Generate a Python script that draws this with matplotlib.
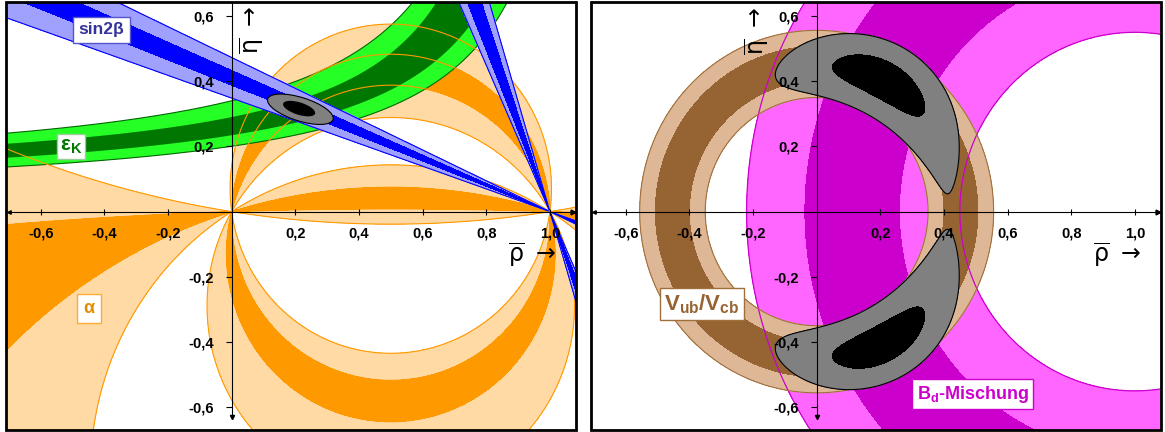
# plot.py — Unitaritätsdreieck: Einzelmessungen (links) und V_ub/V_cb mit B_d-Mischung (rechts).
#
# Verwendung:
#   python plot.py   -> schreibt out.png

import numpy as np
import matplotlib

matplotlib.use("Agg")
import matplotlib.pyplot as plt
from matplotlib.patches import Ellipse, Rectangle

# Achsenbereich und Ticks (rho-bar, eta-bar)
RHO_LIM = (-0.709, 1.082)
ETA_LIM = (-0.670, 0.643)
TICKS_RHO = [-0.6, -0.4, -0.2, 0.2, 0.4, 0.6, 0.8, 1.0]
TICKS_ETA = [-0.6, -0.4, -0.2, 0.2, 0.4, 0.6]

# alpha in Grad (beide Lösungen), 1-sigma / 2-sigma
ALPHA_1S = [(92.0, 104.4), (163.0, 178.1)]
ALPHA_2S = [(82.0, 120.0), (148.0, 188.8)]

# beta in Grad (beide Lösungen aus sin 2 beta)
BETA_1S = [(21.2, 23.4), (68.0, 71.5)]
BETA_2S = [(19.2, 25.3), (66.0, 73.5)]

# eps_K: Stützpunkte der vier Bandränder (rho, eta)
EPSK_RHO_OBEN_2S = [-0.709, 0.00, 0.374, 0.468, 0.570]
EPSK_ETA_OBEN_2S = [0.240, 0.342, 0.474, 0.548, 0.643]
EPSK_RHO_OBEN_1S = [-0.709, 0.00, 0.644]
EPSK_ETA_OBEN_1S = [0.208, 0.290, 0.643]
EPSK_RHO_UNTEN_1S = [-0.709, 0.00, 0.468, 0.800]
EPSK_ETA_UNTEN_1S = [0.166, 0.230, 0.365, 0.643]
EPSK_RHO_UNTEN_2S = [-0.709, 0.00, 0.468, 0.622, 0.778, 0.868]
EPSK_ETA_UNTEN_2S = [0.138, 0.195, 0.311, 0.397, 0.508, 0.643]

# Gesamtfit links: Mittelpunkt, Achsen (voll), Drehwinkel
FIT_MITTE = (0.216, 0.314)
FIT_95 = (0.215, 0.072)
FIT_68 = (0.105, 0.038)
FIT_MITTE_68 = (0.212, 0.316)
FIT_WINKEL = -17.0

# |V_ub/V_cb|: Radius um (0,0)
VUB_1S = [0.40, 0.51]
VUB_2S = [0.35, 0.556]

# Delta m_d: Radius um (1,0)
DMD_1S = [0.74, 1.04]
DMD_2S = [0.55, 1.22]

# Fit aus V_ub und Delta m_d (chi^2 in r und d)
FIT_R0, FIT_SR = 0.455, 0.055
FIT_D0, FIT_SD = 0.89, 0.15
FIT_CHI2 = [1.2, 4.5]

ORANGE_HELL, ORANGE = "#FFDAA5", "#FF9900"
GRUEN_HELL, GRUEN = "#26FF26", "#007700"
BLAU_HELL, BLAU = "#A0A0FF", "#0000FF"
BRAUN_HELL, BRAUN = "#DEB896", "#966432"
MAG_HELL, MAG = "#FF66FF", "#CC00CC"

plt.rcParams["font.family"] = ["Liberation Sans", "DejaVu Sans"]
plt.rcParams["mathtext.fontset"] = "custom"
plt.rcParams["mathtext.rm"] = "Liberation Sans:bold"
plt.rcParams["mathtext.it"] = "Liberation Sans:bold:italic"
plt.rcParams["mathtext.bf"] = "Liberation Sans:bold"


def _komma(v):
    return f"{v:.1f}".replace(".", ",")


def _gitter(n=1200):
    rho = np.linspace(RHO_LIM[0] - 0.02, RHO_LIM[1] + 0.02, n)
    eta = np.linspace(ETA_LIM[0] - 0.02, ETA_LIM[1] + 0.02, int(n * 0.8))
    return np.meshgrid(rho, eta)


def _hyperbel(rho_pts, eta_pts, rho):
    """eta = e + k/(rho0 - rho), angepasst an die Stützpunkte."""
    r = np.asarray(rho_pts, float)
    e = np.asarray(eta_pts, float)
    A = np.column_stack([e, r, np.ones_like(r)])
    rho0, off, c = np.linalg.lstsq(A, e * r, rcond=None)[0]
    k = -c - off * rho0
    with np.errstate(divide="ignore"):
        eta = off + k / (rho0 - rho)
    return np.where(rho < rho0, eta, 10.0)


def _winkelband(ax, R, E, w, intervalle, farbe, z, linie=None):
    """Füllt die Gebiete, in denen arg(w)/2 (mod 180 Grad) in [lo, hi] liegt."""
    for lo, hi in intervalle:
        g = np.abs(np.angle(w * np.exp(-1j * np.deg2rad(lo + hi)), deg=True))
        ax.contourf(R, E, g, levels=[-1, hi - lo], colors=[farbe], zorder=z)
        if linie:
            ax.contour(R, E, g, levels=[hi - lo], colors=linie, linewidths=0.8,
                       linestyles="solid", zorder=z + 0.05)


def _band(ax, R, E, feld, s1, s2, hell, dunkel, z):
    lv = [s2[0], s1[0], s1[1], s2[1]]
    ax.contourf(R, E, feld, levels=lv, colors=[hell, dunkel, hell], zorder=z)


def _achsen(ax):
    ax.set_xlim(*RHO_LIM)
    ax.set_ylim(*ETA_LIM)
    for side in ("top", "right"):
        ax.spines[side].set_visible(False)
    ax.spines["left"].set_position(("data", 0.0))
    ax.spines["bottom"].set_position(("data", 0.0))
    ax.spines["left"].set_bounds(-0.63, ETA_LIM[1])
    for side in ("left", "bottom"):
        ax.spines[side].set_linewidth(0.8)
    ax.set_xticks(TICKS_RHO, [_komma(v) for v in TICKS_RHO])
    ax.set_yticks(TICKS_ETA, [_komma(v) for v in TICKS_ETA])
    ax.tick_params(axis="x", direction="inout", length=5, width=0.8, pad=8, labelsize=10.5)
    ax.tick_params(axis="y", direction="out", length=4, width=0.8, pad=9, labelsize=10.5)
    for lab in ax.get_xticklabels() + ax.get_yticklabels():
        lab.set_fontweight("bold")
    # kleine Pfeilspitzen an den Achsenenden
    ax.plot([RHO_LIM[1] - 0.01], [0], marker=">", ms=3.5, color="black", clip_on=False, zorder=3)
    ax.plot([RHO_LIM[0] + 0.01], [0], marker="<", ms=2.5, color="black", clip_on=False, zorder=3)
    ax.plot([0], [-0.63], marker="v", ms=3, color="black", clip_on=False, zorder=3)
    ax.add_patch(Rectangle((0, 0), 1, 1, transform=ax.transAxes, fill=False,
                           lw=2.0, ec="black", clip_on=False, zorder=10))


def _kasten(ax, x, y, text, farbe, rand, size, pad=0.3):
    ax.text(x, y, text, transform=ax.transAxes, ha="center", va="center",
            fontsize=size, fontweight="bold", color=farbe, zorder=6,
            bbox=dict(boxstyle=f"square,pad={pad}", fc="white", ec=rand, lw=1.0))


def _achsentitel(ax, pos_eta, pos_rho):
    ax.text(*pos_eta, r"$\overline{\mathrm{\eta}}\ \rightarrow$", transform=ax.transAxes,
            rotation=90, ha="center", va="center", fontsize=17,
            math_fontfamily="dejavusans", zorder=6)
    ax.text(*pos_rho, r"$\overline{\mathrm{\rho}}\ \rightarrow$", transform=ax.transAxes,
            ha="center", va="center", fontsize=17, math_fontfamily="dejavusans", zorder=6)


def _links(ax):
    R, E = _gitter()
    # Winkel alpha an der Spitze und beta bei (1,0), jeweils verdoppelt als Phase
    w_alpha = (R**2 - R + E**2 + 1j * E) ** 2
    w_beta = ((1 - R) + 1j * E) ** 2

    _winkelband(ax, R, E, w_alpha, ALPHA_2S, ORANGE_HELL, 1.0)
    _winkelband(ax, R, E, w_alpha, ALPHA_1S, ORANGE, 1.05)

    # eps_K
    rho = np.linspace(RHO_LIM[0] - 0.02, RHO_LIM[1] + 0.02, 1500)
    o2 = _hyperbel(EPSK_RHO_OBEN_2S, EPSK_ETA_OBEN_2S, rho)
    o1 = _hyperbel(EPSK_RHO_OBEN_1S, EPSK_ETA_OBEN_1S, rho)
    u1 = _hyperbel(EPSK_RHO_UNTEN_1S, EPSK_ETA_UNTEN_1S, rho)
    u2 = _hyperbel(EPSK_RHO_UNTEN_2S, EPSK_ETA_UNTEN_2S, rho)
    ax.fill_between(rho, u2, o2, color=GRUEN_HELL, lw=0, zorder=1.2)
    ax.fill_between(rho, u1, o1, color=GRUEN, lw=0, zorder=1.22)
    for kurve in (o2, u2):
        ax.plot(rho, np.where(kurve < 5, kurve, np.nan), color="#006600", lw=0.8, zorder=1.25)

    # Randlinien von alpha über eps_K
    for lo, hi in ALPHA_2S + ALPHA_1S:
        g = np.abs(np.angle(w_alpha * np.exp(-1j * np.deg2rad(lo + hi)), deg=True))
        ax.contour(R, E, g, levels=[hi - lo], colors=ORANGE, linewidths=0.8,
                   linestyles="solid", zorder=1.3)

    # sin 2 beta
    _winkelband(ax, R, E, w_beta, BETA_2S, BLAU_HELL, 1.4, linie=BLAU)
    _winkelband(ax, R, E, w_beta, BETA_1S, BLAU, 1.45)

    # Gesamtfit
    ax.add_patch(Ellipse(FIT_MITTE, FIT_95[0], FIT_95[1], angle=FIT_WINKEL,
                         fc="#808080", ec="black", lw=0.8, zorder=1.6))
    ax.add_patch(Ellipse(FIT_MITTE_68, FIT_68[0], FIT_68[1], angle=FIT_WINKEL,
                         fc="black", ec="none", zorder=1.65))

    _achsen(ax)
    _achsentitel(ax, (0.4316, 0.934), (0.9228, 0.409))
    _kasten(ax, 0.1675, 0.9346, "sin2β", "#333399", "#5555CC", 12.5)
    _kasten(ax, 0.114, 0.6624, r"$\mathrm{ε_K}$", GRUEN, "#99CC99", 15, pad=0.15)
    _kasten(ax, 0.1456, 0.2839, "α", "#E68A00", "#FFAA33", 13, pad=0.35)


def _rechts(ax):
    R, E = _gitter()
    r = np.hypot(R, E)
    d = np.hypot(R - 1, E)
    chi2 = ((r - FIT_R0) / FIT_SR) ** 2 + ((d - FIT_D0) / FIT_SD) ** 2

    _band(ax, R, E, d, DMD_1S, DMD_2S, MAG_HELL, MAG, 1.0)
    _band(ax, R, E, r, VUB_1S, VUB_2S, BRAUN_HELL, BRAUN, 1.2)
    ax.contour(R, E, d, levels=DMD_2S, colors=MAG, linewidths=0.9, zorder=1.3)
    ax.contour(R, E, r, levels=VUB_2S, colors="#A0703C", linewidths=0.8, zorder=1.3)

    ax.contourf(R, E, chi2, levels=[0, FIT_CHI2[0], FIT_CHI2[1]],
                colors=["black", "#808080"], zorder=1.5)
    ax.contour(R, E, chi2, levels=[FIT_CHI2[1]], colors="black", linewidths=0.8, zorder=1.55)

    _achsen(ax)
    _achsentitel(ax, (0.291, 0.932), (0.9228, 0.409))
    _kasten(ax, 0.1947, 0.2944, r"$\mathrm{V_{ub}/V_{cb}}$", BRAUN, "#A0703C", 16, pad=0.2)
    _kasten(ax, 0.670, 0.0841, r"B$_\mathrm{d}$-Mischung", MAG, MAG, 13, pad=0.25)


def main(out_path="out.png"):
    fig = plt.figure(figsize=(11.65, 4.32), dpi=100)
    ax_l = fig.add_axes([6 / 1165, 2 / 432, 570 / 1165, 428 / 432])
    ax_r = fig.add_axes([591 / 1165, 2 / 432, 570 / 1165, 428 / 432])
    _links(ax_l)
    _rechts(ax_r)
    fig.savefig(out_path, dpi=100)
    plt.close(fig)


if __name__ == "__main__":
    main()
